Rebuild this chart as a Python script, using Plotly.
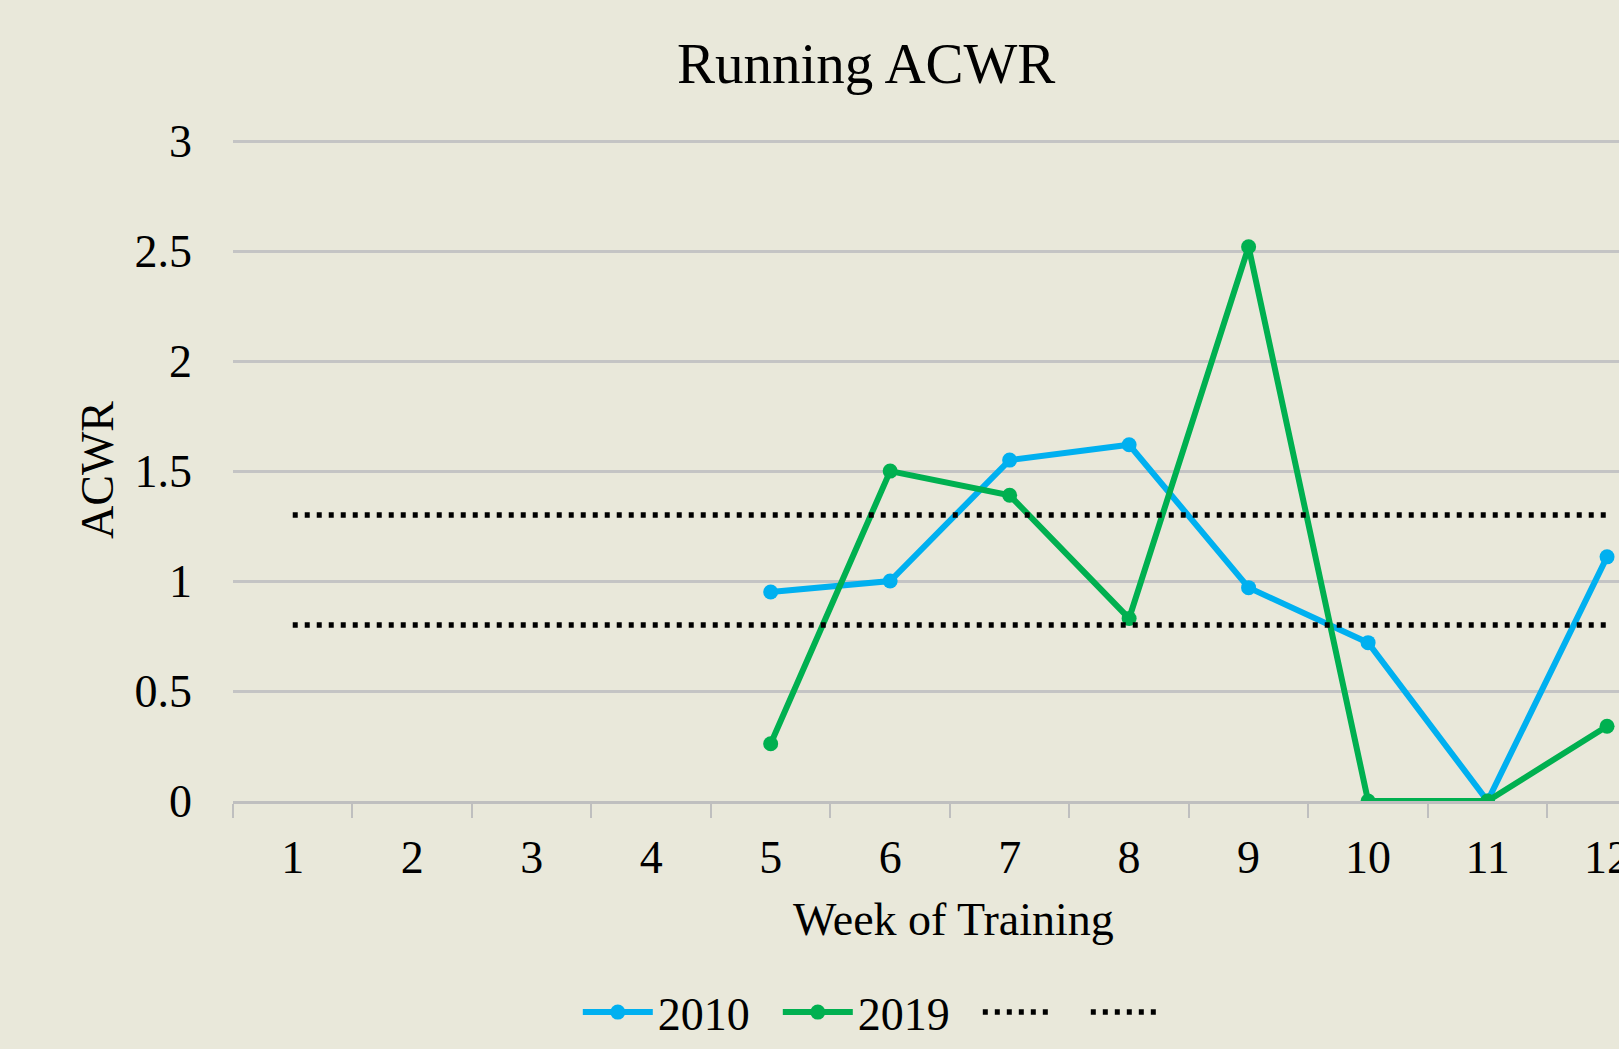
import plotly.graph_objects as go

weeks = [str(w) for w in range(1, 13)]
acwr_2010 = [None, None, None, None, 0.95, 1.00, 1.55, 1.62, 0.97, 0.72, 0.00, 1.11]
acwr_2019 = [None, None, None, None, 0.26, 1.50, 1.39, 0.83, 2.52, 0.00, 0.00, 0.34]
upper_limit = [1.30] * 12
lower_limit = [0.80] * 12

FONT = "Liberation Serif"
BG = "#e9e8da"
PAD = "\u00a0" * 2

fig = go.Figure()

fig.add_trace(go.Scatter(
    x=weeks, y=acwr_2010, name="2010" + PAD, mode="lines+markers",
    line=dict(color="#00b0f0", width=6),
    marker=dict(size=15, color="#00b0f0"),
))
fig.add_trace(go.Scatter(
    x=weeks, y=acwr_2019, name="2019" + PAD, mode="lines+markers",
    line=dict(color="#00b050", width=6),
    marker=dict(size=15, color="#00b050"),
))
# threshold lines, no names in the legend
for vals in (upper_limit, lower_limit):
    fig.add_trace(go.Scatter(
        x=weeks, y=vals, name=PAD, mode="lines",
        line=dict(color="black", width=5.5, dash="5px,7px"),
    ))

fig.update_layout(
    width=1619, height=1049,
    paper_bgcolor=BG, plot_bgcolor=BG,
    font=dict(family=FONT, size=46, color="black"),
    title=dict(text="Running ACWR", x=0.535, xanchor="center", y=0.94, yanchor="middle",
               font=dict(size=57)),
    margin=dict(l=233, r=0, t=139, b=246),
    legend=dict(orientation="h", x=0.471, xanchor="center", y=-0.319, yanchor="middle",
                itemwidth=70, font=dict(size=46), bgcolor="rgba(0,0,0,0)"),
    showlegend=True,
)

# x-axis title as annotation so it can sit off-centre like the original
fig.add_annotation(text="Week of Training", xref="paper", yref="paper",
                   x=0.52, y=-0.179, xanchor="center", yanchor="middle",
                   showarrow=False, font=dict(size=46))

fig.update_xaxes(
    type="category", categoryorder="array", categoryarray=weeks,
    range=[-0.5, 11.1], tickson="boundaries",
    ticks="outside", ticklen=14, tickwidth=2, tickcolor="#bfbfbf",
    showline=True, linecolor="#bfbfbf", linewidth=2.5,
    showgrid=False, zeroline=False,
    ticklabelstandoff=14,
    automargin=False,
)
fig.update_yaxes(
    range=[0, 3.01], dtick=0.5, tickformat="~g",
    showgrid=True, gridcolor="#c4c4c4", gridwidth=2.5,
    zeroline=False, showline=False,
    ticklabelstandoff=40,
    title=dict(text="ACWR", standoff=6, font=dict(size=46)),
    automargin=False,
)

fig.write_html("out.html", config={"displayModeBar": False},
               post_script="document.body.style.margin='0';")
